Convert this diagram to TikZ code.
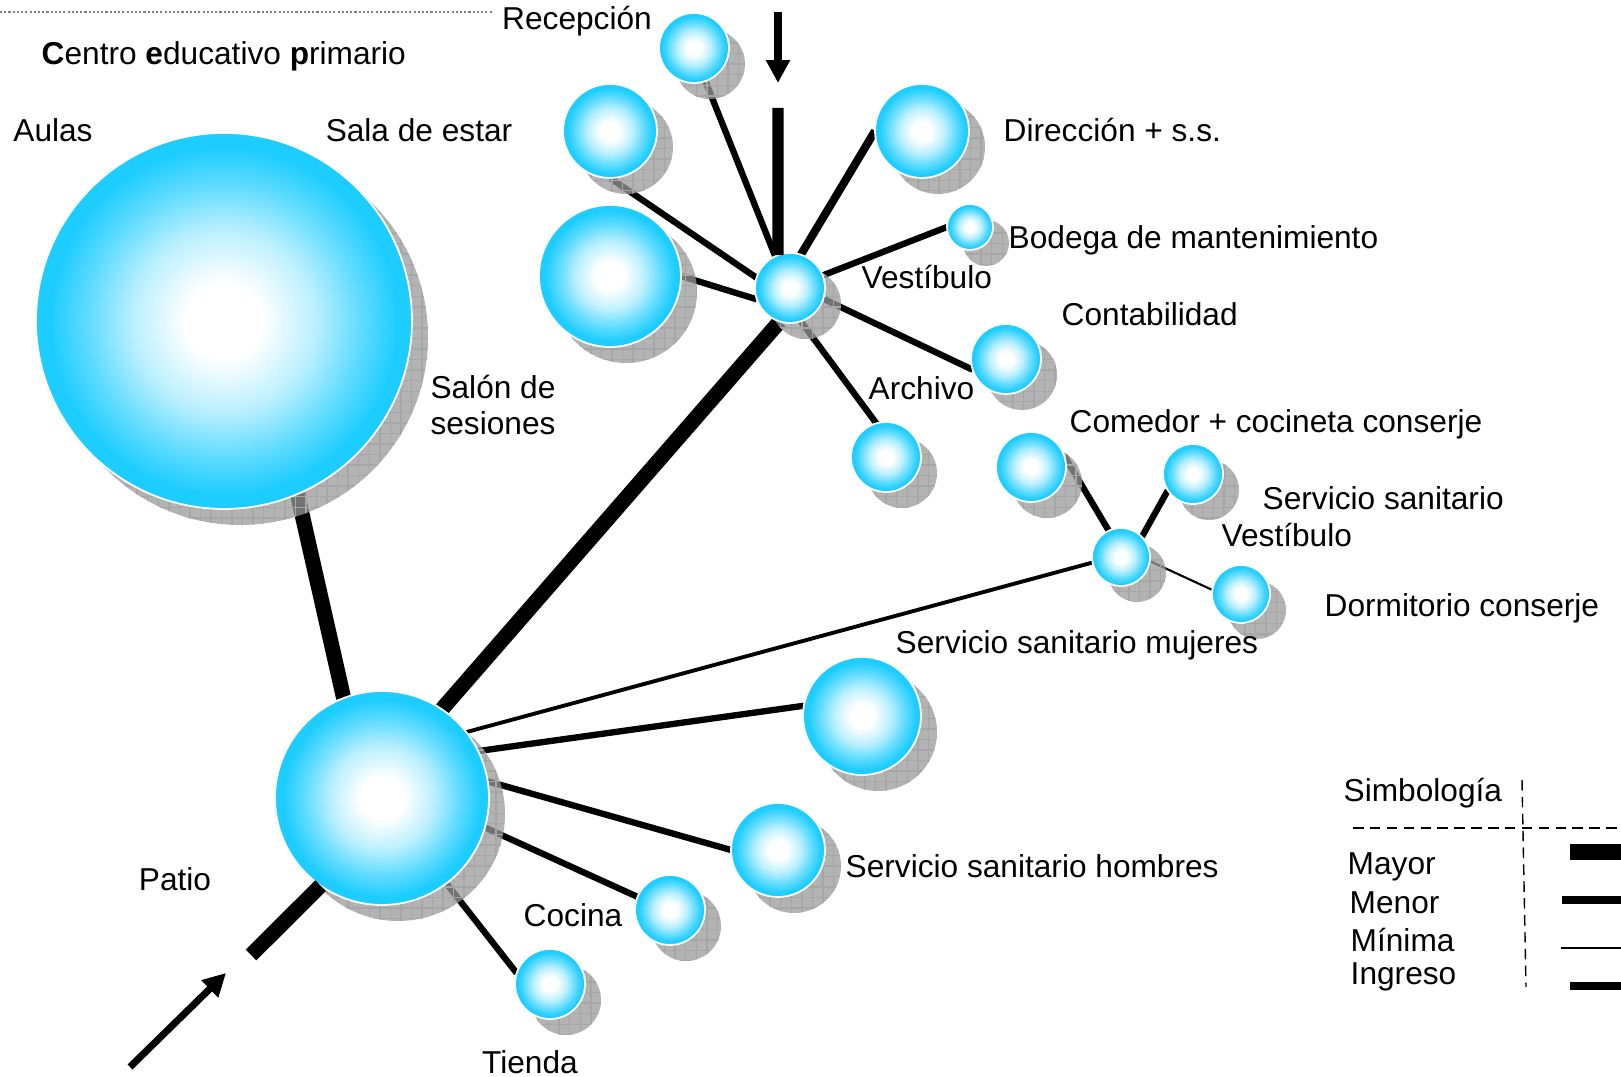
\documentclass[tikz,border=0pt]{standalone}
\usepackage{fontspec}
\setmainfont{Liberation Sans}
\usetikzlibrary{shadows,patterns,arrows.meta}

\pgfdeclarelayer{background}
\pgfsetlayers{background,main}

\definecolor{bubblecyan}{RGB}{30,205,255}
\pgfdeclareradialshading{bubbleshade}{\pgfpoint{0bp}{0bp}}{color(0bp)=(white); color(5bp)=(white); color(12bp)=(bubblecyan!30!white); color(18bp)=(bubblecyan!70!white); color(23bp)=(bubblecyan); color(25bp)=(bubblecyan); color(50bp)=(bubblecyan)}

\begin{document}
\begin{tikzpicture}[x=0.01cm,y=-0.01cm,
  font=\fontsize{9pt}{10.5pt}\selectfont,
  bubble/.style={circle, inner sep=0pt, outer sep=0pt, minimum size={2*#1*0.01cm},
    shading=bubbleshade, draw=white, line width=0.5pt,
    drop shadow={shadow xshift=0.16cm, shadow yshift=-0.16cm, fill=black!40, opacity=0.75},
    drop shadow={shadow xshift=0.16cm, shadow yshift=-0.16cm, pattern=grid, pattern color=gray!70, opacity=1}},
  label/.style={inner sep=0pt},
  mayor/.style={line width=4.3pt},
  menor/.style={line width=1.8pt},
  minima/.style={line width=0.6pt},
  ingreso/.style={line width=3.2pt},
  flecha/.style={line width=2pt, -{Triangle[width=6.5pt,length=6.5pt]}},
  sep/.style={line width=0.4pt, dash pattern=on 3pt off 1.8pt}]

\useasboundingbox (0,0) rectangle (1621,1077);

% Top rule
\coordinate (ruleL) at (0,12);
\coordinate (ruleR) at (492,12);
\draw[gray, line width=0.3pt, dash pattern=on 0.6pt off 0.6pt] (ruleL) -- (ruleR);

% Title
\node[label, anchor=west] (titulo) at (41,56) {\textbf{C}entro \textbf{e}ducativo \textbf{p}rimario};

% Spaces
\node[bubble=188] (aulas) at (224,321) {};
\node[bubble=107] (patio) at (382,798) {};
\node[bubble=35] (vestibulo) at (790,288) {};
\node[bubble=35] (recepcion) at (694,48) {};
\node[bubble=47] (sala) at (610,131) {};
\node[bubble=71] (salon) at (610,276) {};
\node[bubble=47] (direccion) at (922,131) {};
\node[bubble=23] (bodega) at (970,227) {};
\node[bubble=35] (contabilidad) at (1006,359) {};
\node[bubble=35] (archivo) at (886,457) {};
\node[bubble=35] (comedor) at (1031,467) {};
\node[bubble=30] (sanitario) at (1193,474) {};
\node[bubble=29] (vestibuloB) at (1121,557) {};
\node[bubble=29] (dormitorio) at (1241,594) {};
\node[bubble=59] (mujeres) at (862,716) {};
\node[bubble=47] (hombres) at (778,850) {};
\node[bubble=35] (cocina) at (670,910) {};
\node[bubble=35] (tienda) at (550,984) {};

% Relations
\begin{pgfonlayer}{background}
\draw[mayor] (aulas.-67) -- (patio.111);
\draw[mayor] (patio.56) -- (vestibulo.-107);
\draw[line width=1.1pt] (patio.38) -- (vestibuloB.-169);
\draw[menor] (patio.26) -- (mujeres.170);
\draw[menor] (patio.9) -- (hombres.180);
\draw[menor] (patio.-16) -- (cocina.158);
\draw[menor] (patio.-53) -- (tienda.162);
\draw[menor] (vestibulo.115) -- (recepcion.-71);
\draw[menor] (vestibulo.163) -- (sala.-90);
\draw[menor] (vestibulo.-161) -- (salon.0);
\draw[menor, line width=2.3pt] (vestibulo.72) -- (direccion.180);
\draw[menor] (vestibulo.21) -- (bodega.180);
\draw[menor] (vestibulo.-18) -- (contabilidad.-162);
\draw[menor] (vestibulo.-72) -- (archivo.106);
\draw[menor] (vestibuloB.115) -- (comedor.19);
\draw[menor] (vestibuloB.44) -- (sanitario.-147);
\draw[minima] (vestibuloB.-8) -- (dormitorio.172);
\end{pgfonlayer}

% Entrances
\coordinate (inTop) at (778,12);
\coordinate (inTopTip) at (778,83);
\coordinate (barTop) at (778,108);
\draw[flecha] (inTop) -- (inTopTip);
\draw[ingreso] (barTop) -- (vestibulo.110);
\coordinate (inBot) at (130,1067);
\coordinate (inBotTip) at (226,973);
\coordinate (barBot) at (251,955);
\draw[flecha] (inBot) -- (inBotTip);
\draw[mayor] (barBot) -- (patio.-125);

% Labels
\node[label] (lRecepcion) at (577,21) {Recepción};
\node[label] (lAulas) at (53,130) {Aulas};
\node[label] (lSala) at (419,130) {Sala de estar};
\node[label, align=center] (lSalon) at (493,405) {Salón de\\ sesiones};
\node[label, anchor=west] (lDireccion) at (1003,130) {Dirección + s.s.};
\node[label, anchor=west] (lBodega) at (1008,240) {Bodega de mantenimiento};
\node[label, anchor=west] (lVestibulo) at (861,277) {Vestíbulo};
\node[label, anchor=west] (lContabilidad) at (1061,314) {Contabilidad};
\node[label, anchor=west] (lArchivo) at (868,388) {Archivo};
\node[label, anchor=west] (lComedor) at (1069,424) {Comedor + cocineta conserje};
\node[label, anchor=west] (lSanitario) at (1262,498) {Servicio sanitario};
\node[label, anchor=west] (lVestibuloB) at (1221,535) {Vestíbulo};
\node[label, anchor=west] (lDormitorio) at (1324,608) {Dormitorio conserje};
\node[label, anchor=west] (lMujeres) at (895,645) {Servicio sanitario mujeres};
\node[label, anchor=west] (lHombres) at (845,866) {Servicio sanitario hombres};
\node[label] (lPatio) at (175,879) {Patio};
\node[label] (lCocina) at (573,915) {Cocina};
\node[label] (lTienda) at (530,1062) {Tienda};

% Legend
\node[label, anchor=west] (simbologia) at (1343,793) {Simbología};
\node[label, anchor=west] (lMayor) at (1347,867) {Mayor};
\node[label, anchor=west] (lMenor) at (1349,903) {Menor};
\node[label, anchor=west] (lMinima) at (1350,940) {Mínima};
\node[label, anchor=west] (lIngreso) at (1350,977) {Ingreso};
\coordinate (sepTop) at (1522,780);
\coordinate (sepBot) at (1526,987);
\coordinate (sepL) at (1353,828);
\coordinate (sepR) at (1621,828);
\draw[sep] (sepTop) -- (sepBot);
\draw[sep] (sepL) -- (sepR);
\coordinate (kMayorA) at (1570,852);
\coordinate (kMayorB) at (1621,852);
\coordinate (kMenorA) at (1562,900);
\coordinate (kMenorB) at (1621,900);
\coordinate (kMinimaA) at (1561,948);
\coordinate (kMinimaB) at (1621,948);
\coordinate (kIngresoA) at (1570,986);
\coordinate (kIngresoB) at (1621,986);
\draw[mayor] (kMayorA) -- (kMayorB);
\draw[line width=2.3pt] (kMenorA) -- (kMenorB);
\draw[line width=0.3pt] (kMinimaA) -- (kMinimaB);
\draw[line width=2.3pt] (kIngresoA) -- (kIngresoB);

\end{tikzpicture}
\end{document}
